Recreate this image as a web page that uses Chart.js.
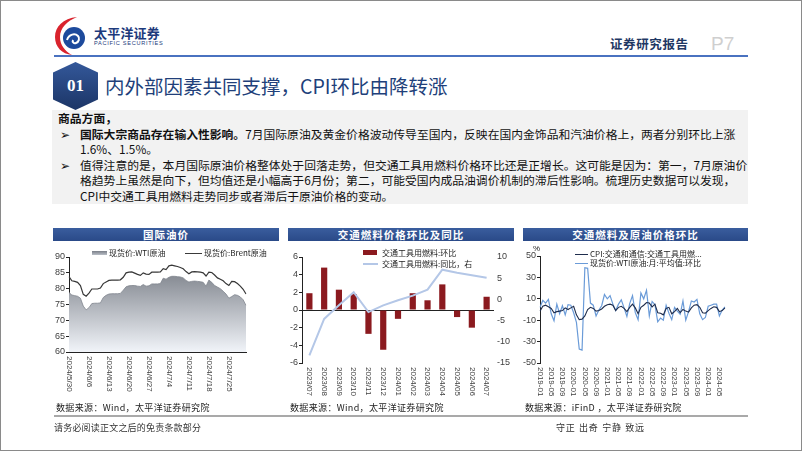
<!DOCTYPE html>
<html><head><meta charset="utf-8">
<script src="https://cdn.jsdelivr.net/npm/chart.js@4.4.1/dist/chart.umd.min.js"></script>
<style>
html,body{margin:0;padding:0;background:#fff;}
#page{position:relative;width:802px;height:451px;overflow:hidden;font-family:"Noto Sans CJK SC","Noto Sans",sans-serif;color:#1a1a1a;}
.a{position:absolute;white-space:nowrap;}
.frame{position:absolute;left:0;top:0;width:800px;height:449px;border:1px solid #8a8a8a;}
.tl{position:absolute;left:80px;font-size:11.8px;line-height:14px;height:14px;white-space:nowrap;color:#111;}
.bul{position:absolute;left:60px;font-size:12px;line-height:14px;color:#111;}
.bar{position:absolute;top:228px;height:13px;background:linear-gradient(#3a5d9e,#2a4a88);color:#fff;font-size:10.5px;line-height:13px;font-weight:bold;text-align:center;letter-spacing:1px;}
.src{position:absolute;top:401px;font-size:9px;line-height:13px;letter-spacing:0.35px;color:#222;white-space:nowrap;}
.lg{position:absolute;font-size:8px;line-height:10px;color:#222;white-space:nowrap;}
canvas{position:absolute;}
</style></head>
<body><div id="page">
<div class="frame"></div>

<!-- header -->
<svg class="a" style="left:53px;top:16px" width="36" height="40" viewBox="0 0 36 40">
  <path d="M24 1 C10 2 2 11 2 21 C2 31 9 38 19 39 C12 35 7 29 7 21 C7 12 14 5 24 1 Z" fill="#d9232d"/>
  <circle cx="21" cy="22" r="11" fill="#1d4a9c"/>
  <path d="M14 24 C16 18 22 17 25 20 C27 22 26 26 23 27 C21 28 19 26 20 24" stroke="#fff" stroke-width="2" fill="none"/>
</svg>
<div class="a" style="left:94px;top:25px;font-size:13px;line-height:16px;font-weight:bold;color:#1d3a7c;letter-spacing:0.2px">太平洋证券</div>
<div class="a" style="left:94px;top:40px;font-size:5.6px;line-height:7px;color:#1d3a7c;letter-spacing:0.7px;font-family:'Liberation Sans',sans-serif">PACIFIC SECURITIES</div>
<div class="a" style="left:610px;top:36px;font-size:12.5px;line-height:16px;font-weight:bold;color:#1f3864;letter-spacing:0.6px">证券研究报告</div>
<div class="a" style="left:711px;top:33px;font-size:19px;line-height:22px;color:#cfcfcf;font-family:'Liberation Sans',sans-serif">P7</div>
<div class="a" style="left:54px;top:55px;width:694px;height:2px;background:#4a72c0"></div>

<!-- section title -->
<div class="a" style="left:53px;top:62px;width:45px;height:48px;clip-path:polygon(50% 0,100% 22%,100% 78%,50% 100%,0 78%,0 22%);background:linear-gradient(#34589a,#1c3566);"></div>
<div class="a" style="left:53px;top:74px;width:45px;text-align:center;font-size:17px;line-height:24px;font-weight:bold;color:#fff;font-family:'Liberation Serif',serif">01</div>
<div class="a" style="left:105px;top:73px;font-size:19.5px;line-height:26px;color:#213f7a">内外部因素共同支撑，CPI环比由降转涨</div>

<!-- text box -->
<div class="a" style="left:52px;top:110px;width:696px;height:94px;background:#f2f2f2"></div>
<div class="tl" style="left:58px;top:111px;font-weight:bold">商品方面，</div>
<div class="bul" style="top:126.5px">➢</div>
<div class="tl" style="top:126.5px"><b>国际大宗商品存在输入性影响。</b>7月国际原油及黄金价格波动传导至国内，反映在国内金饰品和汽油价格上，两者分别环比上涨</div>
<div class="tl" style="top:142px">1.6%、1.5%。</div>
<div class="bul" style="top:157.5px">➢</div>
<div class="tl" style="top:157.5px">值得注意的是，本月国际原油价格整体处于回落走势，但交通工具用燃料价格环比还是正增长。这可能是因为：第一，7月原油价</div>
<div class="tl" style="top:173px">格趋势上虽然是向下，但均值还是小幅高于6月份；第二，可能受国内成品油调价机制的滞后性影响。梳理历史数据可以发现，</div>
<div class="tl" style="top:188.5px">CPI中交通工具用燃料走势同步或者滞后于原油价格的变动。</div>

<!-- chart title bars -->
<div class="bar" style="left:53px;width:226px">国际油价</div>
<div class="bar" style="left:288px;width:226px">交通燃料价格环比及同比</div>
<div class="bar" style="left:523px;width:225px">交通燃料及原油价格环比</div>

<canvas id="c1" width="227" height="160" style="left:55px;top:243px"></canvas>
<canvas id="c2" width="227" height="160" style="left:288px;top:243px"></canvas>
<canvas id="c3" width="228" height="160" style="left:522px;top:243px"></canvas>

<!-- legends -->
<div class="a" style="left:92px;top:251px;width:15px;height:4px;background:linear-gradient(#7a7f88,#b9bec6)"></div>
<div class="lg" style="left:109px;top:248px">现货价:WTI原油</div>
<div class="a" style="left:185px;top:252.5px;width:17px;height:1.3px;background:#3a3a3a"></div>
<div class="lg" style="left:204px;top:248px">现货价:Brent原油</div>

<div class="a" style="left:363px;top:250px;width:14px;height:5px;background:#8b1a1f"></div>
<div class="lg" style="left:382px;top:248px">交通工具用燃料:环比</div>
<div class="a" style="left:363px;top:263px;width:15px;height:2px;background:#b4c7e7"></div>
<div class="lg" style="left:382px;top:259px">交通工具用燃料:同比，右</div>

<div class="lg" style="left:533px;top:244px;font-family:'Liberation Sans',sans-serif">%</div>
<div class="a" style="left:575px;top:254px;width:13px;height:1.2px;background:#1f2d4d"></div>
<div class="lg" style="left:590px;top:249px">CPI:交通和通信:交通工具用燃...</div>
<div class="a" style="left:575px;top:263px;width:13px;height:1.2px;background:#6a9bd8"></div>
<div class="lg" style="left:590px;top:258px">现货价:WTI原油:月:平均值:环比</div>

<!-- sources -->
<div class="src" style="left:56px">数据来源：Wind，太平洋证券研究院</div>
<div class="src" style="left:290px">数据来源：Wind，太平洋证券研究院</div>
<div class="src" style="left:525px">数据来源：iFinD ，太平洋证券研究院</div>

<!-- footer -->
<div class="a" style="left:54px;top:415px;width:694px;height:2px;background:#a9a9a9"></div>
<div class="a" style="left:54px;top:421px;font-size:9px;line-height:13px;color:#333;letter-spacing:0.2px">请务必阅读正文之后的免责条款部分</div>
<div class="a" style="left:556px;top:421px;font-size:9px;line-height:13px;color:#333;letter-spacing:0.7px;word-spacing:1px">守正 出奇 宁静 致远</div>
</div>

<script>
// ---------- Chart 1: 国际油价 ----------
const oilDates = ['2024/5/30','2024/5/31','2024/6/1','2024/6/2','2024/6/3','2024/6/4','2024/6/5','2024/6/6','2024/6/7','2024/6/8',
 '2024/6/9','2024/6/10','2024/6/11','2024/6/12','2024/6/13','2024/6/14','2024/6/15','2024/6/16','2024/6/17','2024/6/18',
 '2024/6/19','2024/6/20','2024/6/21','2024/6/22','2024/6/23','2024/6/24','2024/6/25','2024/6/26','2024/6/27','2024/6/28',
 '2024/6/29','2024/6/30','2024/7/1','2024/7/2','2024/7/3','2024/7/4','2024/7/5','2024/7/6','2024/7/7','2024/7/8',
 '2024/7/9','2024/7/10','2024/7/11','2024/7/12','2024/7/13','2024/7/14','2024/7/15','2024/7/16','2024/7/17','2024/7/18',
 '2024/7/19','2024/7/20','2024/7/21','2024/7/22','2024/7/23','2024/7/24','2024/7/25','2024/7/26','2024/7/27','2024/7/28',
 '2024/7/29','2024/7/30','2024/7/31'];
const oilTickLabels = ['2024/5/30','2024/6/6','2024/6/13','2024/6/20','2024/6/27','2024/7/4','2024/7/11','2024/7/18','2024/7/25'];
const wtiSpot = [78.8,78.0,77.8,77.6,77.0,74.5,73.3,74.0,75.3,75.4,
 75.4,75.5,77.2,77.9,78.3,78.4,78.4,78.4,78.5,79.5,
 80.6,80.9,81.0,81.0,80.8,80.7,81.3,80.8,80.9,81.5,
 81.5,81.5,81.6,83.3,83.0,83.6,83.9,83.9,83.8,83.7,
 83.4,82.6,82.1,82.3,82.4,82.3,82.2,82.0,80.8,82.7,
 82.0,81.0,80.5,80.0,79.2,78.3,77.0,77.5,78.1,77.9,
 77.4,76.5,74.7];
const brentSpot = [83.8,82.5,82.3,82.0,81.0,78.2,77.6,78.6,79.9,79.9,
 79.9,80.2,81.6,82.1,82.6,82.7,82.7,82.7,82.8,83.6,
 85.0,85.2,85.3,84.9,84.5,84.2,85.0,84.6,84.5,85.2,
 85.2,85.2,85.3,86.3,86.0,87.2,87.4,87.2,87.0,86.7,
 86.3,85.4,84.7,85.3,85.4,85.3,85.2,85.0,84.0,85.2,
 85.1,84.3,83.4,83.0,82.5,81.6,81.0,82.3,82.2,81.6,
 80.8,79.8,78.3];

// ---------- Chart 2: 交通燃料价格环比及同比 ----------
const fuelMonths = ['2023/07','2023/08','2023/09','2023/10','2023/11','2023/12','2024/01','2024/02','2024/03','2024/04','2024/05','2024/06','2024/07'];
const fuelMoM = [1.9,4.8,2.3,1.8,-2.7,-4.5,-1.0,1.9,1.1,2.9,-0.8,-2.0,1.5];
const fuelYoY = [-13.2,-4.6,-1.4,1.7,-3.0,-1.4,-0.2,0.9,2.3,7.0,6.3,5.7,5.1];

// ---------- Chart 3: 交通燃料及原油价格环比 ----------
const cpiMonths = ['2019-01','2019-02','2019-03','2019-04','2019-05','2019-06','2019-07','2019-08','2019-09','2019-10','2019-11','2019-12',
 '2020-01','2020-02','2020-03','2020-04','2020-05','2020-06','2020-07','2020-08','2020-09','2020-10','2020-11','2020-12',
 '2021-01','2021-02','2021-03','2021-04','2021-05','2021-06','2021-07','2021-08','2021-09','2021-10','2021-11','2021-12',
 '2022-01','2022-02','2022-03','2022-04','2022-05','2022-06','2022-07','2022-08','2022-09','2022-10','2022-11','2022-12',
 '2023-01','2023-02','2023-03','2023-04','2023-05','2023-06','2023-07','2023-08','2023-09','2023-10','2023-11','2023-12',
 '2024-01','2024-02','2024-03','2024-04','2024-05','2024-06','2024-07'];
const cpiTickLabels = ['2019-01','2019-05','2019-09','2020-01','2020-05','2020-09','2021-01','2021-05','2021-09','2022-01','2022-05','2022-09','2023-01','2023-05','2023-09','2024-01','2024-05'];
const cpiFuelMoM = [-1.5,3,4,2.5,1,-3,-2,-1.5,-1,1.5,0,1.5,
 3,-5,-9.5,-9,-6,0,2,1,-1.5,-1,0.5,3,
 4.5,5,4,-1,2,3,1,-2,2,5,1.5,-4,
 2,4,6.5,6,2.5,5,-3,-3.5,-5,1,2,-4,
 -2,1,-3,0,-1.5,-2.5,1.5,4,4.5,2,-3,-3.5,
 -1,1,2.5,2,-2,-1,1.5];
const wtiMonthlyMoM = [2,8.5,6,9.5,-4,-10.5,5,-4,3.5,-5,4.5,4,
 -3,-12,-37,-38,39,38.5,6,4,-6,-0.5,3.5,14,
 10,13,5,-1,5,9,1.5,-6.5,5.5,13,-3,-9.5,
 15.5,10,18,-6,7.5,4.5,-11.5,-8,-10,4,-3.5,-9.5,
 2,-1.5,-4.5,8,-10,-2,8,7,9.5,-4,-9.5,-7.5,
 3,4,5,5,-6,-0.5,2.5];

Chart.defaults.font.family = '"Liberation Sans", Arial, sans-serif';
Chart.defaults.font.size = 9;
Chart.defaults.color = '#404040';

function vLabels(cats, shown, gap) {
  return {
    id: 'vLabels',
    afterDraw(chart) {
      const sc = chart.scales.x, ctx = chart.ctx, y0 = chart.chartArea.bottom + gap;
      ctx.save();
      ctx.font = '8px "Liberation Sans", Arial, sans-serif';
      ctx.fillStyle = '#404040';
      ctx.textAlign = 'left';
      ctx.textBaseline = 'middle';
      shown.forEach(t => {
        const i = cats.indexOf(t);
        if (i < 0) return;
        ctx.save();
        ctx.translate(sc.getPixelForValue(i), y0);
        ctx.rotate(Math.PI / 2);
        ctx.fillText(t, 0, 0);
        ctx.restore();
      });
      ctx.restore();
    }
  };
}
const base = { responsive: false, devicePixelRatio: 1, animation: false, events: [] };

new Chart(document.getElementById('c1'), {
  type: 'line',
  data: { labels: oilDates, datasets: [
    { label: '现货价:Brent原油', data: brentSpot, fill: false, borderColor: '#383838', borderWidth: 1.2, pointRadius: 0, tension: 0, order: 0 },
    { label: '现货价:WTI原油', data: wtiSpot, fill: 'start', pointRadius: 0, tension: 0, order: 1, borderColor: '#80858e', borderWidth: 0.8,
      backgroundColor: (c) => { const ca = c.chart.chartArea; if (!ca) return '#999';
        const g = c.chart.ctx.createLinearGradient(0, ca.top, 0, ca.bottom);
        g.addColorStop(0, '#6d727b'); g.addColorStop(1, '#f1f4f9'); return g; } }
  ]},
  options: Object.assign({}, base, {
    layout: { padding: { top: 14, right: 36, left: 0, bottom: 0 } },
    plugins: { legend: { display: false }, tooltip: { enabled: false } },
    scales: {
      x: { ticks: { display: false }, grid: { display: false }, border: { display: true, color: '#222', width: 1 }, afterFit: s => { s.height = 51; } },
      y: { min: 60, max: 90, ticks: { stepSize: 5, padding: 1 }, grid: { drawOnChartArea: false, tickLength: 3, color: '#222' }, border: { color: '#222' }, afterFit: s => { s.width = 14; } }
    }
  }),
  plugins: [vLabels(oilDates, oilTickLabels, 4)]
});

new Chart(document.getElementById('c2'), {
  type: 'bar',
  data: { labels: fuelMonths, datasets: [
    { type: 'line', label: '交通工具用燃料:同比，右', data: fuelYoY, yAxisID: 'y1', borderColor: '#b4c7e7', borderWidth: 2, pointRadius: 0, tension: 0, order: 0 },
    { type: 'bar', label: '交通工具用燃料:环比', data: fuelMoM, yAxisID: 'y', backgroundColor: '#8b1a1f', barPercentage: 0.42, categoryPercentage: 1, order: 1 }
  ]},
  options: Object.assign({}, base, {
    layout: { padding: { top: 14, right: 0, left: 0, bottom: 0 } },
    plugins: { legend: { display: false }, tooltip: { enabled: false } },
    scales: {
      x: { offset: true, ticks: { display: false }, grid: { display: false }, border: { display: false }, afterFit: s => { s.height = 40; } },
      y: { position: 'left', min: -6, max: 6, ticks: { stepSize: 2, padding: 1 },
           grid: { color: c => (c.tick && c.tick.value === 0) ? '#222' : 'rgba(0,0,0,0)', tickColor: '#222', tickLength: 3, lineWidth: 1 },
           border: { color: '#222' }, afterFit: s => { s.width = 14; } },
      y1: { position: 'right', min: -15, max: 10, ticks: { stepSize: 5, padding: 3 }, grid: { display: false, drawTicks: false }, border: { display: false }, afterFit: s => { s.width = 21; } }
    }
  }),
  plugins: [vLabels(fuelMonths, fuelMonths, 4)]
});

new Chart(document.getElementById('c3'), {
  type: 'line',
  data: { labels: cpiMonths, datasets: [
    { label: 'CPI:交通和通信:交通工具用燃料:环比', data: cpiFuelMoM, borderColor: '#1f2d4d', borderWidth: 1.1, pointRadius: 0, tension: 0, order: 0 },
    { label: '现货价:WTI原油:月:平均值:环比', data: wtiMonthlyMoM, borderColor: '#6a9bd8', borderWidth: 1.2, pointRadius: 0, tension: 0, order: 1 }
  ]},
  options: Object.assign({}, base, {
    layout: { padding: { top: 13, right: 25, left: 0, bottom: 0 } },
    plugins: { legend: { display: false }, tooltip: { enabled: false } },
    scales: {
      x: { ticks: { display: false }, grid: { display: false }, border: { display: false }, afterFit: s => { s.height = 40; } },
      y: { min: -50, max: 50, ticks: { stepSize: 10, padding: 1 },
           grid: { color: c => (c.tick && c.tick.value === 0) ? '#7f7f7f' : 'rgba(0,0,0,0)', lineWidth: c => (c.tick && c.tick.value === 0) ? 2.5 : 1,
                   tickColor: '#222', tickWidth: 1, tickLength: 3 },
           border: { color: '#222' }, afterFit: s => { s.width = 18; } }
    }
  }),
  plugins: [vLabels(cpiMonths, cpiTickLabels, 4)]
});
</script>
</body></html>
